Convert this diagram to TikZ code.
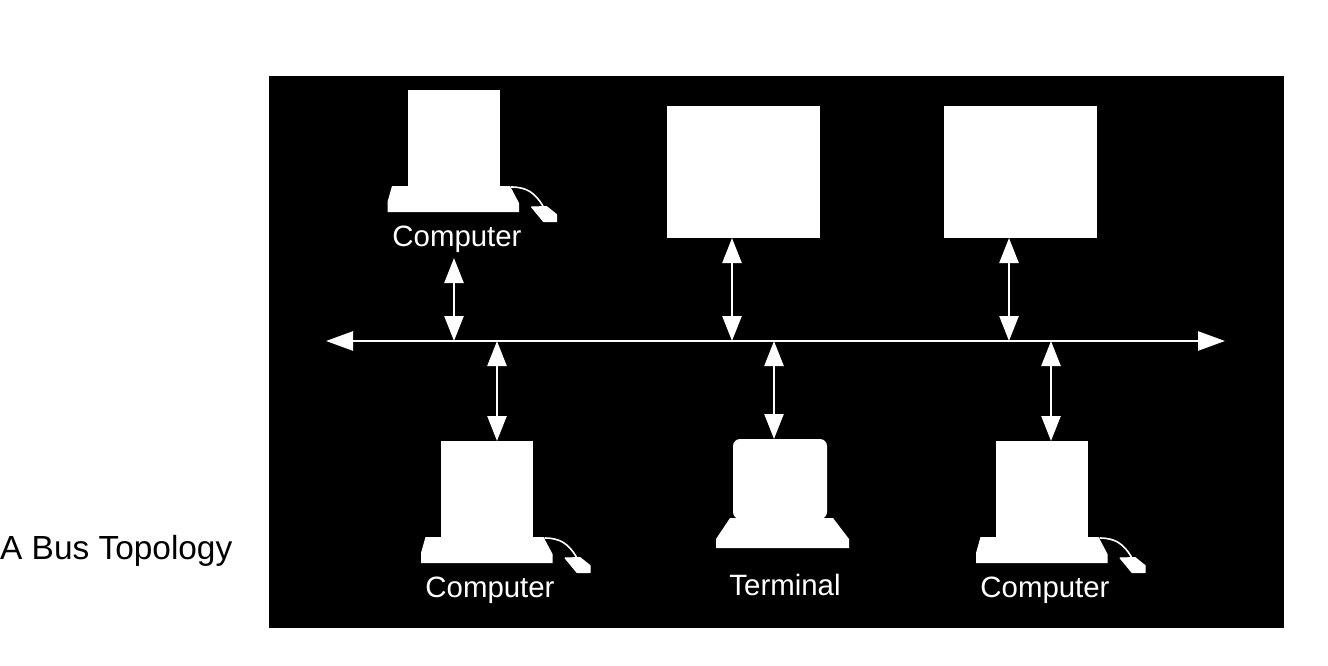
\documentclass[tikz,border=0pt]{standalone}
\usepackage{fontspec}
\setmainfont{Liberation Sans}
\usetikzlibrary{arrows.meta,calc}
\tikzset{
  panel/.style={fill=black,draw=none,inner sep=0pt,outer sep=0pt,minimum width=1015pt,minimum height=552pt},
  whitebox/.style={fill=white,draw=none,inner sep=0pt,outer sep=0pt},
  shapefill/.style={fill=white,draw=none},
  mousebody/.style={fill=white,draw=white,line width=1pt,line join=round},
  cable/.style={draw=white,line width=1.6pt},
  link/.style={draw=white,line width=2.5pt,{Triangle[length=25pt,width=19pt]}-{Triangle[length=25pt,width=19pt]}},
  bus/.style={draw=white,line width=2.5pt,{Triangle[length=27pt,width=19pt]}-{Triangle[length=27pt,width=19pt]}},
  whitelabel/.style={text=white,font=\fontsize{29.4pt}{32pt}\selectfont,inner sep=0pt},
  caption/.style={text=black,font=\fontsize{33.4pt}{36pt}\selectfont,inner sep=0pt,anchor=west}
}
% #1 monitor name, #2 #3 monitor offset, #4 offset of keyboard and mouse from the monitor
\newcommand{\pccomputer}[4]{%
  \begin{scope}[shift={(#2,#3)}]
    \node[whitebox,minimum width=92pt,minimum height=96pt] (#1) at (454,138) {};
    \begin{scope}[shift={(#4,0)}]
      \path[shapefill] (392,186) -- (510,186) -- (519,203) -- (519,212) -- (387.5,212) -- (387.5,202) -- cycle;
      \draw[cable] (511,187) .. controls (527,187) and (535,193) .. (543,206);
      \path[mousebody] (531.5,207) -- (546.5,206.5) -- (556.5,214.5) -- (556.5,221.5) -- (543.5,221.5) -- cycle;
    \end{scope}
  \end{scope}}
\begin{document}
\begin{tikzpicture}[x=1pt,y=-1pt]
\useasboundingbox (0,0) rectangle (1328,666);
\node[panel] (panel) at (776.5,352) {};
\node[caption] (cap) at (0,551) {A Bus Topology};
% devices
\pccomputer{pcA}{0}{0}{0}
\pccomputer{pcB}{33}{351}{0.5}
\pccomputer{pcC}{588}{351}{0.5}
\node[whitebox,minimum width=153pt,minimum height=132pt] (boxA) at (743.5,172) {};
\node[whitebox,minimum width=153pt,minimum height=132pt] (boxB) at (1020.5,172) {};
\node[whitebox,rounded corners=7pt,minimum width=94pt,minimum height=80pt] (term) at (780,479) {};
\path[shapefill] (730,518) -- (833,518) -- (849,539) -- (849,548) -- (716,548) -- (716,539) -- cycle;
% labels
\node[whitelabel] (lblA) at (457,239) {Computer};
\node[whitelabel] (lblB) at (490,590) {Computer};
\node[whitelabel] (lblC) at (1045,590) {Computer};
\node[whitelabel] (lblT) at (785,585) {Terminal};
% bus
\coordinate (busL) at (326,341);
\coordinate (busR) at (1225,341);
\draw[bus] (busL) -- (busR);
\coordinate (tapA) at (454,341);
\coordinate (tapB) at (732,341);
\coordinate (tapC) at (1009,341);
\coordinate (tapD) at (497,341);
\coordinate (tapE) at (774,341);
\coordinate (tapF) at (1051,341);
\coordinate (freeA) at (454,258);
\draw[link] (freeA) -- (tapA);
\draw[link] (boxA.south -| tapB) -- (tapB);
\draw[link] (boxB.south -| tapC) -- (tapC);
\draw[link] (tapD) -- (pcB.north -| tapD);
\draw[link] (tapE) -- (term.north -| tapE);
\draw[link] (tapF) -- (pcC.north -| tapF);
\end{tikzpicture}
\end{document}
